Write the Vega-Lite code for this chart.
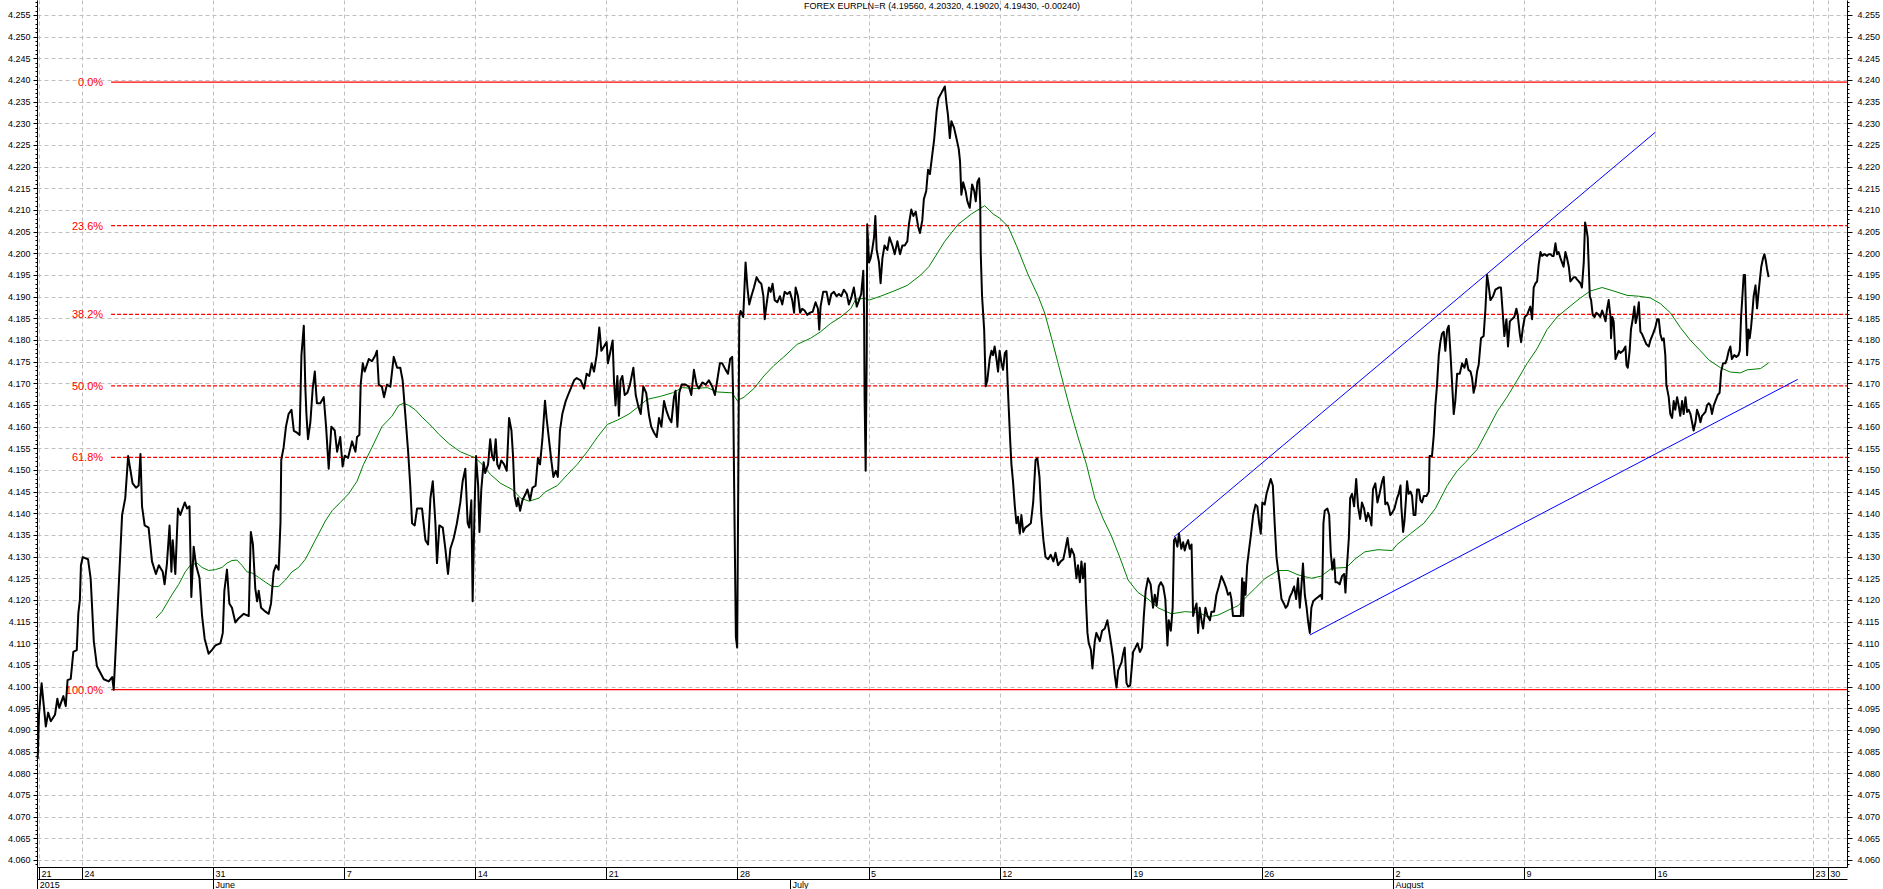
{
"$schema": "https://vega.github.io/schema/vega-lite/v6.json",
"width": 1810, "height": 867,
"autosize": {"type": "none"},
"padding": {"left": 37, "top": 0, "right": 36, "bottom": 22},
"background": "white",
"title": {"text": "FOREX EURPLN=R (4.19560, 4.20320, 4.19020, 4.19430, -0.00240)", "font": "Liberation Sans", "fontSize": 9, "fontWeight": "normal", "color": "#000", "anchor": "middle", "offset": -11},
"config": {"view": {"stroke": null}},
"datasets": {
"fib": [
{"pct": "0.0%", "level": 4.2395, "t0": 1.11, "t1": 67.32},
{"pct": "23.6%", "level": 4.2064, "t0": 1.11, "t1": 67.32},
{"pct": "38.2%", "level": 4.1859, "t0": 1.11, "t1": 67.32},
{"pct": "50.0%", "level": 4.1694, "t0": 1.11, "t1": 67.32},
{"pct": "61.8%", "level": 4.1529, "t0": 1.11, "t1": 67.32},
{"pct": "100.0%", "level": 4.0993, "t0": 1.11, "t1": 67.32}
],
"trend": [
{"t0": 41.65, "p0": 4.1345, "t1": 60.02, "p1": 4.2280},
{"t0": 46.83, "p0": 4.1119, "t1": 65.44, "p1": 4.1709}
],
"ma": [
{"t":2.82,"m":4.1158},{"t":3.05,"m":4.1173},{"t":3.43,"m":4.1212},{"t":3.69,"m":4.1236},{"t":3.94,"m":4.1265},{"t":4.13,"m":4.1280},{"t":4.39,"m":4.1285},{"t":4.58,"m":4.1275},{"t":4.83,"m":4.1268},{"t":5.09,"m":4.1270},{"t":5.34,"m":4.1275},{"t":5.53,"m":4.1285},{"t":5.72,"m":4.1291},{"t":5.91,"m":4.1292},{"t":6.10,"m":4.1280},{"t":6.29,"m":4.1265},{"t":6.49,"m":4.1262},{"t":6.74,"m":4.1252},{"t":7.00,"m":4.1241},{"t":7.25,"m":4.1231},{"t":7.50,"m":4.1231},{"t":7.76,"m":4.1246},{"t":8.01,"m":4.1265},{"t":8.26,"m":4.1275},{"t":8.52,"m":4.1294},{"t":8.90,"m":4.1338},{"t":9.28,"m":4.1382},{"t":9.54,"m":4.1406},{"t":9.85,"m":4.1425},{"t":10.17,"m":4.1445},{"t":10.49,"m":4.1474},{"t":10.74,"m":4.1513},{"t":11.06,"m":4.1552},{"t":11.44,"m":4.1600},{"t":11.82,"m":4.1624},{"t":12.08,"m":4.1649},{"t":12.27,"m":4.1654},{"t":12.46,"m":4.1649},{"t":12.71,"m":4.1639},{"t":12.97,"m":4.1622},{"t":13.35,"m":4.1600},{"t":13.60,"m":4.1583},{"t":13.99,"m":4.1561},{"t":14.43,"m":4.1542},{"t":14.75,"m":4.1534},{"t":15.00,"m":4.1528},{"t":15.26,"m":4.1513},{"t":15.59,"m":4.1489},{"t":15.97,"m":4.1469},{"t":16.41,"m":4.1455},{"t":16.73,"m":4.1435},{"t":17.05,"m":4.1428},{"t":17.43,"m":4.1435},{"t":17.69,"m":4.1450},{"t":18.13,"m":4.1464},{"t":18.51,"m":4.1489},{"t":18.89,"m":4.1513},{"t":19.27,"m":4.1542},{"t":19.66,"m":4.1576},{"t":20.04,"m":4.1605},{"t":20.42,"m":4.1615},{"t":20.86,"m":4.1629},{"t":21.18,"m":4.1644},{"t":21.56,"m":4.1663},{"t":22.07,"m":4.1670},{"t":22.52,"m":4.1678},{"t":22.90,"m":4.1690},{"t":23.34,"m":4.1688},{"t":23.85,"m":4.1690},{"t":24.23,"m":4.1680},{"t":24.80,"m":4.1678},{"t":24.99,"m":4.1660},{"t":25.25,"m":4.1668},{"t":25.63,"m":4.1688},{"t":26.01,"m":4.1717},{"t":26.39,"m":4.1741},{"t":26.77,"m":4.1761},{"t":27.28,"m":4.1790},{"t":27.79,"m":4.1804},{"t":28.17,"m":4.1819},{"t":28.55,"m":4.1838},{"t":28.94,"m":4.1853},{"t":29.32,"m":4.1872},{"t":29.51,"m":4.1894},{"t":29.83,"m":4.1896},{"t":30.02,"m":4.1892},{"t":30.46,"m":4.1901},{"t":30.97,"m":4.1913},{"t":31.48,"m":4.1926},{"t":31.99,"m":4.1950},{"t":32.30,"m":4.1969},{"t":32.56,"m":4.1994},{"t":32.91,"m":4.2028},{"t":33.42,"m":4.2067},{"t":33.93,"m":4.2091},{"t":34.43,"m":4.2110},{"t":34.75,"m":4.2091},{"t":35.00,"m":4.2081},{"t":35.32,"m":4.2062},{"t":35.64,"m":4.2018},{"t":36.09,"m":4.1950},{"t":36.47,"m":4.1901},{"t":36.72,"m":4.1862},{"t":36.98,"m":4.1804},{"t":37.23,"m":4.1746},{"t":37.48,"m":4.1688},{"t":37.74,"m":4.1629},{"t":37.99,"m":4.1576},{"t":38.31,"m":4.1513},{"t":38.63,"m":4.1435},{"t":38.95,"m":4.1387},{"t":39.26,"m":4.1348},{"t":39.58,"m":4.1299},{"t":39.90,"m":4.1246},{"t":40.28,"m":4.1217},{"t":40.66,"m":4.1202},{"t":41.04,"m":4.1182},{"t":41.55,"m":4.1168},{"t":42.06,"m":4.1173},{"t":42.57,"m":4.1171},{"t":42.95,"m":4.1161},{"t":43.33,"m":4.1165},{"t":43.71,"m":4.1176},{"t":44.10,"m":4.1187},{"t":44.41,"m":4.1207},{"t":44.73,"m":4.1226},{"t":45.11,"m":4.1249},{"t":45.62,"m":4.1268},{"t":46.00,"m":4.1268},{"t":46.38,"m":4.1258},{"t":46.89,"m":4.1250},{"t":47.27,"m":4.1255},{"t":47.66,"m":4.1273},{"t":48.23,"m":4.1275},{"t":48.55,"m":4.1294},{"t":48.93,"m":4.1311},{"t":49.43,"m":4.1316},{"t":49.97,"m":4.1314},{"t":50.16,"m":4.1328},{"t":50.67,"m":4.1353},{"t":51.18,"m":4.1377},{"t":51.62,"m":4.1411},{"t":52.07,"m":4.1464},{"t":52.45,"m":4.1498},{"t":52.77,"m":4.1518},{"t":53.21,"m":4.1547},{"t":53.59,"m":4.1590},{"t":53.97,"m":4.1634},{"t":54.35,"m":4.1668},{"t":54.74,"m":4.1707},{"t":55.12,"m":4.1746},{"t":55.50,"m":4.1780},{"t":55.88,"m":4.1824},{"t":56.26,"m":4.1853},{"t":56.64,"m":4.1872},{"t":57.15,"m":4.1897},{"t":57.53,"m":4.1913},{"t":57.98,"m":4.1921},{"t":58.42,"m":4.1913},{"t":58.93,"m":4.1903},{"t":59.38,"m":4.1901},{"t":59.82,"m":4.1897},{"t":60.20,"m":4.1884},{"t":60.58,"m":4.1863},{"t":60.96,"m":4.1829},{"t":61.35,"m":4.1799},{"t":61.73,"m":4.1775},{"t":62.05,"m":4.1754},{"t":62.49,"m":4.1736},{"t":62.87,"m":4.1726},{"t":63.25,"m":4.1724},{"t":63.51,"m":4.1731},{"t":64.02,"m":4.1734},{"t":64.33,"m":4.1747}
],
"px": [
{"t":-1.69,"p":4.0833},{"t":-1.64,"p":4.0935},{"t":-1.54,"p":4.1008},{"t":-1.48,"p":4.0970},{"t":-1.38,"p":4.0908},{"t":-1.29,"p":4.0940},{"t":-1.19,"p":4.0920},{"t":-1.03,"p":4.0935},{"t":-0.94,"p":4.0972},{"t":-0.87,"p":4.0951},{"t":-0.71,"p":4.0978},{"t":-0.62,"p":4.0955},{"t":-0.55,"p":4.1015},{"t":-0.43,"p":4.1018},{"t":-0.33,"p":4.1080},{"t":-0.20,"p":4.1084},{"t":-0.14,"p":4.1169},{"t":-0.08,"p":4.1200},{"t":-0.04,"p":4.1280},{"t":0.03,"p":4.1299},{"t":0.23,"p":4.1294},{"t":0.33,"p":4.1250},{"t":0.45,"p":4.1105},{"t":0.57,"p":4.1047},{"t":0.83,"p":4.1017},{"t":1.02,"p":4.1012},{"t":1.15,"p":4.1022},{"t":1.21,"p":4.0993},{"t":1.30,"p":4.1105},{"t":1.40,"p":4.1231},{"t":1.53,"p":4.1396},{"t":1.65,"p":4.1435},{"t":1.76,"p":4.1532},
{"t":1.93,"p":4.1469},{"t":2.06,"p":4.1459},{"t":2.16,"p":4.1464},{"t":2.23,"p":4.1537},{"t":2.29,"p":4.1416},{"t":2.39,"p":4.1372},{"t":2.54,"p":4.1367},{"t":2.67,"p":4.1289},{"t":2.82,"p":4.1260},{"t":2.93,"p":4.1280},{"t":3.08,"p":4.1265},{"t":3.15,"p":4.1236},{"t":3.24,"p":4.1284},{"t":3.34,"p":4.1372},{"t":3.41,"p":4.1265},{"t":3.46,"p":4.1338},{"t":3.56,"p":4.1260},{"t":3.66,"p":4.1411},{"t":3.75,"p":4.1396},{"t":3.92,"p":4.1425},{"t":4.01,"p":4.1411},{"t":4.10,"p":4.1416},{"t":4.17,"p":4.1207},{"t":4.26,"p":4.1323},{"t":4.35,"p":4.1280},{"t":4.48,"p":4.1251},{"t":4.58,"p":4.1163},{"t":4.68,"p":4.1110},{"t":4.83,"p":4.1076},{"t":4.96,"p":4.1085},{"t":5.09,"p":4.1095},{"t":5.28,"p":4.1100},{"t":5.37,"p":4.1124},{"t":5.43,"p":4.1221},{"t":5.53,"p":4.1270},{"t":5.62,"p":4.1192},{"t":5.72,"p":4.1182},{"t":5.85,"p":4.1148},{"t":5.98,"p":4.1158},{"t":6.17,"p":4.1168},{"t":6.36,"p":4.1163},{"t":6.44,"p":4.1357},{"t":6.52,"p":4.1328},{"t":6.61,"p":4.1226},{"t":6.68,"p":4.1197},{"t":6.74,"p":4.1221},{"t":6.83,"p":4.1182},{"t":7.00,"p":4.1173},{"t":7.12,"p":4.1168},{"t":7.21,"p":4.1192},{"t":7.31,"p":4.1265},{"t":7.40,"p":4.1280},{"t":7.50,"p":4.1270},{"t":7.57,"p":4.1377},{"t":7.60,"p":4.1523},{"t":7.69,"p":4.1552},{"t":7.78,"p":4.1600},{"t":7.88,"p":4.1629},{"t":7.99,"p":4.1639},{"t":8.08,"p":4.1590},{"t":8.20,"p":4.1586},{"t":8.30,"p":4.1581},{"t":8.37,"p":4.1765},{"t":8.46,"p":4.1833},{"t":8.52,"p":4.1688},{"t":8.56,"p":4.1629},{"t":8.62,"p":4.1571},{"t":8.71,"p":4.1610},{"t":8.80,"p":4.1688},{"t":8.88,"p":4.1727},{"t":8.96,"p":4.1654},{"t":9.09,"p":4.1654},{"t":9.22,"p":4.1668},{"t":9.31,"p":4.1600},{"t":9.41,"p":4.1503},{"t":9.51,"p":4.1600},{"t":9.64,"p":4.1591},{"t":9.73,"p":4.1542},{"t":9.85,"p":4.1576},{"t":9.94,"p":4.1508},{"t":10.02,"p":4.1533},{"t":10.15,"p":4.1528},{"t":10.30,"p":4.1566},{"t":10.43,"p":4.1542},{"t":10.49,"p":4.1576},{"t":10.58,"p":4.1581},{"t":10.63,"p":4.1697},{"t":10.71,"p":4.1746},{"t":10.78,"p":4.1727},{"t":10.94,"p":4.1756},{"t":11.06,"p":4.1751},{"t":11.19,"p":4.1765},{"t":11.25,"p":4.1775},{"t":11.32,"p":4.1697},{"t":11.44,"p":4.1692},{"t":11.52,"p":4.1668},{"t":11.63,"p":4.1697},{"t":11.76,"p":4.1692},{"t":11.89,"p":4.1761},{"t":12.02,"p":4.1736},{"t":12.14,"p":4.1736},{"t":12.23,"p":4.1707},{"t":12.33,"p":4.1629},{"t":12.44,"p":4.1542},{"t":12.52,"p":4.1464},{"t":12.59,"p":4.1377},{"t":12.69,"p":4.1372},{"t":12.78,"p":4.1411},{"t":12.97,"p":4.1411},{"t":13.10,"p":4.1338},{"t":13.20,"p":4.1328},{"t":13.29,"p":4.1435},{"t":13.38,"p":4.1474},{"t":13.48,"p":4.1377},{"t":13.54,"p":4.1285},{"t":13.63,"p":4.1372},{"t":13.76,"p":4.1367},{"t":13.86,"p":4.1318},{"t":13.96,"p":4.1260},{"t":14.05,"p":4.1318},{"t":14.18,"p":4.1343},{"t":14.30,"p":4.1377},{"t":14.43,"p":4.1425},{"t":14.52,"p":4.1474},{"t":14.62,"p":4.1503},{"t":14.71,"p":4.1377},{"t":14.77,"p":4.1367},{"t":14.85,"p":4.1430},{"t":14.90,"p":4.1197},{"t":14.97,"p":4.1406},{"t":15.03,"p":4.1532},{"t":15.11,"p":4.1464},{"t":15.16,"p":4.1357},{"t":15.23,"p":4.1455},{"t":15.32,"p":4.1518},{"t":15.38,"p":4.1493},{"t":15.49,"p":4.1513},{"t":15.57,"p":4.1571},{"t":15.64,"p":4.1533},
{"t":15.71,"p":4.1522},{"t":15.78,"p":4.1571},{"t":15.84,"p":4.1513},{"t":15.91,"p":4.1503},{"t":15.99,"p":4.1522},{"t":16.10,"p":4.1513},{"t":16.20,"p":4.1498},{"t":16.29,"p":4.1620},{"t":16.38,"p":4.1591},{"t":16.44,"p":4.1533},{"t":16.50,"p":4.1440},{"t":16.58,"p":4.1416},{"t":16.63,"p":4.1435},{"t":16.71,"p":4.1406},{"t":16.80,"p":4.1430},{"t":16.92,"p":4.1445},{"t":16.99,"p":4.1455},{"t":17.09,"p":4.1430},{"t":17.18,"p":4.1459},{"t":17.30,"p":4.1464},{"t":17.39,"p":4.1527},{"t":17.47,"p":4.1513},{"t":17.56,"p":4.1571},{"t":17.66,"p":4.1660},{"t":17.72,"p":4.1620},{"t":17.81,"p":4.1571},{"t":17.90,"p":4.1522},{"t":17.98,"p":4.1484},{"t":18.07,"p":4.1498},{"t":18.15,"p":4.1484},{"t":18.23,"p":4.1591},{"t":18.32,"p":4.1629},{"t":18.45,"p":4.1659},{"t":18.54,"p":4.1673},{"t":18.64,"p":4.1688},{"t":18.77,"p":4.1707},{"t":18.87,"p":4.1712},{"t":19.02,"p":4.1707},{"t":19.15,"p":4.1688},{"t":19.25,"p":4.1722},{"t":19.35,"p":4.1717},{"t":19.44,"p":4.1746},{"t":19.53,"p":4.1727},{"t":19.63,"p":4.1765},{"t":19.73,"p":4.1829},{"t":19.81,"p":4.1775},{"t":19.91,"p":4.1785},{"t":20.01,"p":4.1795},{"t":20.06,"p":4.1746},{"t":20.16,"p":4.1775},{"t":20.24,"p":4.1799},{"t":20.29,"p":4.1707},{"t":20.35,"p":4.1649},{"t":20.42,"p":4.1717},{"t":20.48,"p":4.1625},{"t":20.54,"p":4.1707},{"t":20.61,"p":4.1717},{"t":20.70,"p":4.1673},{"t":20.80,"p":4.1678},{"t":20.90,"p":4.1697},{"t":21.03,"p":4.1736},{"t":21.12,"p":4.1673},{"t":21.21,"p":4.1649},{"t":21.31,"p":4.1629},{"t":21.41,"p":4.1693},{"t":21.52,"p":4.1678},{"t":21.63,"p":4.1625},{"t":21.71,"p":4.1600},{"t":21.82,"p":4.1586},{"t":21.92,"p":4.1576},{"t":22.01,"p":4.1620},{"t":22.10,"p":4.1600},{"t":22.20,"p":4.1659},{"t":22.30,"p":4.1635},{"t":22.39,"p":4.1620},{"t":22.48,"p":4.1610},{"t":22.58,"p":4.1668},{"t":22.64,"p":4.1683},{"t":22.71,"p":4.1600},{"t":22.78,"p":4.1678},{"t":22.87,"p":4.1697},{"t":23.02,"p":4.1697},{"t":23.15,"p":4.1692},{"t":23.24,"p":4.1673},{"t":23.34,"p":4.1731},{"t":23.44,"p":4.1697},{"t":23.53,"p":4.1688},{"t":23.66,"p":4.1702},{"t":23.79,"p":4.1697},{"t":23.91,"p":4.1707},{"t":24.04,"p":4.1692},{"t":24.14,"p":4.1673},{"t":24.23,"p":4.1707},{"t":24.33,"p":4.1746},{"t":24.42,"p":4.1746},{"t":24.55,"p":4.1731},{"t":24.64,"p":4.1722},{"t":24.72,"p":4.1756},{"t":24.80,"p":4.1761},{"t":24.84,"p":4.1659},{"t":24.89,"p":4.1377},{"t":24.94,"p":4.1114},{"t":24.99,"p":4.1090},{"t":25.03,"p":4.1455},{"t":25.07,"p":4.1853},{"t":25.12,"p":4.1867},{"t":25.22,"p":4.1853},{"t":25.31,"p":4.1979},{"t":25.38,"p":4.1921},{"t":25.45,"p":4.1882},{"t":25.53,"p":4.1901},{"t":25.63,"p":4.1921},{"t":25.73,"p":4.1945},{"t":25.82,"p":4.1935},{"t":25.91,"p":4.1930},{"t":25.99,"p":4.1901},{"t":26.04,"p":4.1848},{"t":26.11,"p":4.1882},{"t":26.20,"p":4.1921},{"t":26.27,"p":4.1911},{"t":26.34,"p":4.1930},{"t":26.42,"p":4.1892},{"t":26.52,"p":4.1887},{"t":26.62,"p":4.1901},{"t":26.71,"p":4.1882},{"t":26.80,"p":4.1911},{"t":26.90,"p":4.1906},{"t":27.00,"p":4.1911},{"t":27.09,"p":4.1892},{"t":27.16,"p":4.1863},{"t":27.22,"p":4.1921},{"t":27.31,"p":4.1901},{"t":27.39,"p":4.1863},{"t":27.47,"p":4.1872},{"t":27.56,"p":4.1868},{"t":27.66,"p":4.1858},{"t":27.77,"p":4.1863},{"t":27.87,"p":4.1865},{"t":27.98,"p":4.1887},{"t":28.07,"p":4.1872},{"t":28.12,"p":4.1824},{"t":28.17,"p":4.1877},{"t":28.27,"p":4.1911},{"t":28.40,"p":4.1911},{"t":28.49,"p":4.1882},{"t":28.58,"p":4.1906},{"t":28.68,"p":4.1911},{"t":28.78,"p":4.1901},{"t":28.87,"p":4.1906},{"t":28.96,"p":4.1901},{"t":29.06,"p":4.1916},{"t":29.17,"p":4.1906},{"t":29.25,"p":4.1882},{"t":29.34,"p":4.1897},{"t":29.44,"p":4.1921},{"t":29.55,"p":4.1877},{"t":29.64,"p":4.1892},{"t":29.72,"p":4.1906},{"t":29.80,"p":4.1960},{"t":29.83,"p":4.1863},{"t":29.85,"p":4.1668},{"t":29.89,"p":4.1498},{"t":29.93,"p":4.1765},{"t":29.95,"p":4.2067},{"t":30.02,"p":4.1979},{"t":30.08,"p":4.1989},{"t":30.14,"p":4.2008},{"t":30.21,"p":4.2037},{"t":30.26,"p":4.2086},{"t":30.31,"p":4.2008},{"t":30.40,"p":4.1979},{"t":30.46,"p":4.1931},{"t":30.53,"p":4.1989},{"t":30.61,"p":4.2018},{"t":30.72,"p":4.2008},{"t":30.80,"p":4.2037},{"t":30.91,"p":4.2018},{"t":31.00,"p":4.1998},{"t":31.10,"p":4.2028},{"t":31.20,"p":4.1998},{"t":31.29,"p":4.2018},{"t":31.38,"p":4.2018},{"t":31.48,"p":4.2028},{"t":31.54,"p":4.2067},{"t":31.63,"p":4.2101},{"t":31.71,"p":4.2086},{"t":31.80,"p":4.2096},{"t":31.89,"p":4.2062},{"t":31.96,"p":4.2047},{"t":32.05,"p":4.2076},{"t":32.11,"p":4.2125},{"t":32.20,"p":4.2144},{"t":32.27,"p":4.2193},{"t":32.34,"p":4.2183},{"t":32.43,"p":4.2227},{"t":32.50,"p":4.2261},{"t":32.60,"p":4.2329},{"t":32.67,"p":4.2358},
{"t":32.76,"p":4.2368},{"t":32.84,"p":4.2377},{"t":32.91,"p":4.2385},{"t":32.97,"p":4.2348},{"t":33.03,"p":4.2319},{"t":33.10,"p":4.2266},{"t":33.16,"p":4.2305},{"t":33.26,"p":4.2290},{"t":33.35,"p":4.2266},{"t":33.44,"p":4.2241},{"t":33.49,"p":4.2212},{"t":33.54,"p":4.2135},{"t":33.61,"p":4.2164},{"t":33.70,"p":4.2144},{"t":33.77,"p":4.2120},{"t":33.86,"p":4.2105},{"t":33.95,"p":4.2159},{"t":34.03,"p":4.2144},{"t":34.09,"p":4.2120},{"t":34.15,"p":4.2164},{"t":34.22,"p":4.2173},{"t":34.26,"p":4.2115},{"t":34.28,"p":4.1999},{"t":34.33,"p":4.1901},{"t":34.41,"p":4.1824},{"t":34.47,"p":4.1693},{"t":34.53,"p":4.1707},{"t":34.62,"p":4.1756},{"t":34.69,"p":4.1775},{"t":34.75,"p":4.1765},{"t":34.81,"p":4.1785},{"t":34.88,"p":4.1756},{"t":34.94,"p":4.1727},{"t":35.00,"p":4.1775},{"t":35.07,"p":4.1746},{"t":35.13,"p":4.1731},{"t":35.20,"p":4.1770},{"t":35.26,"p":4.1775},{"t":35.30,"p":4.1707},{"t":35.35,"p":4.1639},{"t":35.40,"p":4.1571},{"t":35.45,"p":4.1513},{"t":35.51,"p":4.1474},{"t":35.58,"p":4.1416},{"t":35.64,"p":4.1377},{"t":35.70,"p":4.1392},{"t":35.77,"p":4.1353},{"t":35.83,"p":4.1396},{"t":35.90,"p":4.1357},{"t":35.98,"p":4.1367},{"t":36.09,"p":4.1372},{"t":36.19,"p":4.1377},{"t":36.28,"p":4.1425},{"t":36.37,"p":4.1523},{"t":36.44,"p":4.1527},{"t":36.52,"p":4.1484},{"t":36.59,"p":4.1396},{"t":36.67,"p":4.1338},{"t":36.75,"p":4.1299},{"t":36.85,"p":4.1294},{"t":36.95,"p":4.1304},{"t":37.05,"p":4.1289},{"t":37.13,"p":4.1309},{"t":37.23,"p":4.1280},{"t":37.33,"p":4.1289},{"t":37.43,"p":4.1294},{"t":37.51,"p":4.1318},{"t":37.59,"p":4.1343},{"t":37.68,"p":4.1299},{"t":37.74,"p":4.1318},{"t":37.84,"p":4.1304},{"t":37.93,"p":4.1250},{"t":37.99,"p":4.1280},{"t":38.06,"p":4.1241},{"t":38.12,"p":4.1289},{"t":38.18,"p":4.1250},{"t":38.25,"p":4.1284},{"t":38.29,"p":4.1202},{"t":38.35,"p":4.1124},{"t":38.40,"p":4.1100},{"t":38.48,"p":4.1085},{"t":38.54,"p":4.1042},{"t":38.63,"p":4.1105},{"t":38.69,"p":4.1124},{"t":38.76,"p":4.1114},{"t":38.82,"p":4.1105},{"t":38.91,"p":4.1129},{"t":39.01,"p":4.1134},{"t":39.11,"p":4.1153},{"t":39.20,"p":4.1119},{"t":39.26,"p":4.1095},{"t":39.33,"p":4.1066},{"t":39.39,"p":4.1027},{"t":39.46,"p":4.0998},{"t":39.52,"p":4.1037},{"t":39.58,"p":4.1046},{"t":39.65,"p":4.1056},{"t":39.71,"p":4.1076},{"t":39.77,"p":4.1090},{"t":39.84,"p":4.1008},{"t":39.90,"p":4.1000},{"t":39.98,"p":4.1003},{"t":40.03,"p":4.1037},{"t":40.09,"p":4.1080},{"t":40.18,"p":4.1090},{"t":40.26,"p":4.1100},{"t":40.35,"p":4.1080},{"t":40.43,"p":4.1090},{"t":40.50,"p":4.1163},{"t":40.57,"p":4.1221},{"t":40.66,"p":4.1250},{"t":40.76,"p":4.1236},{"t":40.85,"p":4.1182},{"t":40.92,"p":4.1212},{"t":40.99,"p":4.1187},{"t":41.07,"p":4.1231},{"t":41.15,"p":4.1241},{"t":41.24,"p":4.1231},{"t":41.32,"p":4.1202},{"t":41.40,"p":4.1095},{"t":41.45,"p":4.1153},{"t":41.53,"p":4.1129},{"t":41.60,"p":4.1182},{"t":41.65,"p":4.1338},{"t":41.70,"p":4.1343},{"t":41.78,"p":4.1323},{"t":41.84,"p":4.1353},{"t":41.93,"p":4.1318},{"t":42.00,"p":4.1333},{"t":42.06,"p":4.1314},{"t":42.12,"p":4.1328},{"t":42.19,"p":4.1338},{"t":42.25,"p":4.1318},{"t":42.32,"p":4.1328},{"t":42.38,"p":4.1163},{"t":42.44,"p":4.1178},{"t":42.51,"p":4.1192},{"t":42.57,"p":4.1124},{"t":42.63,"p":4.1182},{"t":42.70,"p":4.1153},{"t":42.76,"p":4.1134},{"t":42.85,"p":4.1182},{"t":42.93,"p":4.1163},{"t":43.02,"p":4.1153},{"t":43.08,"p":4.1173},{"t":43.18,"p":4.1173},{"t":43.27,"p":4.1212},{"t":43.36,"p":4.1231},{"t":43.46,"p":4.1255},{"t":43.56,"p":4.1241},{"t":43.65,"p":4.1226},{"t":43.71,"p":4.1212},{"t":43.79,"p":4.1217},{"t":43.84,"p":4.1202},{"t":43.90,"p":4.1163},{"t":43.99,"p":4.1163},{"t":44.10,"p":4.1163},{"t":44.20,"p":4.1163},{"t":44.25,"p":4.1250},{"t":44.29,"p":4.1163},{"t":44.32,"p":4.1241},{"t":44.38,"p":4.1212},{"t":44.44,"p":4.1280},{"t":44.50,"p":4.1309},{"t":44.58,"p":4.1348},{"t":44.67,"p":4.1396},{"t":44.76,"p":4.1420},{"t":44.83,"p":4.1416},{"t":44.90,"p":4.1377},{"t":44.96,"p":4.1353},{"t":45.02,"p":4.1425},{"t":45.11,"p":4.1420},{"t":45.18,"p":4.1445},{"t":45.27,"p":4.1464},{"t":45.34,"p":4.1479},{"t":45.42,"p":4.1464},{"t":45.49,"p":4.1377},{"t":45.56,"p":4.1299},{"t":45.62,"p":4.1270},{"t":45.68,"p":4.1241},{"t":45.75,"p":4.1202},{"t":45.84,"p":4.1192},{"t":45.91,"p":4.1182},{"t":45.98,"p":4.1187},{"t":46.07,"p":4.1207},{"t":46.15,"p":4.1217},{"t":46.23,"p":4.1231},{"t":46.31,"p":4.1202},{"t":46.38,"p":4.1250},{"t":46.45,"p":4.1182},{"t":46.51,"p":4.1231},{"t":46.57,"p":4.1284},{"t":46.64,"p":4.1212},{"t":46.71,"p":4.1182},{"t":46.76,"p":4.1153},{"t":46.83,"p":4.1124},{"t":46.89,"p":4.1182},{"t":46.96,"p":4.1197},{"t":47.05,"p":4.1202},{"t":47.15,"p":4.1207},{"t":47.25,"p":4.1212},{"t":47.30,"p":4.1202},{"t":47.35,"p":4.1377},{"t":47.40,"p":4.1406},{"t":47.50,"p":4.1411},{"t":47.57,"p":4.1396},{"t":47.63,"p":4.1309},{"t":47.69,"p":4.1270},{"t":47.76,"p":4.1294},{"t":47.81,"p":4.1241},{"t":47.88,"p":4.1241},{"t":47.97,"p":4.1236},{"t":48.06,"p":4.1255},{"t":48.14,"p":4.1260},{"t":48.19,"p":4.1217},{"t":48.25,"p":4.1280},{"t":48.32,"p":4.1343},{"t":48.37,"p":4.1435},{"t":48.44,"p":4.1445},{"t":48.52,"p":4.1416},{"t":48.60,"p":4.1479},{"t":48.67,"p":4.1416},{"t":48.75,"p":4.1387},{"t":48.82,"p":4.1425},{"t":48.90,"p":4.1411},{"t":48.98,"p":4.1382},{"t":49.05,"p":4.1401},{"t":49.13,"p":4.1387},{"t":49.18,"p":4.1372},{"t":49.24,"p":4.1455},{"t":49.33,"p":4.1469},{"t":49.41,"p":4.1425},{"t":49.49,"p":4.1445},
{"t":49.59,"p":4.1474},{"t":49.65,"p":4.1484},{"t":49.71,"p":4.1421},{"t":49.78,"p":4.1425},{"t":49.84,"p":4.1416},{"t":49.90,"p":4.1396},{"t":49.97,"p":4.1401},{"t":50.06,"p":4.1411},{"t":50.16,"p":4.1435},{"t":50.22,"p":4.1445},{"t":50.29,"p":4.1464},{"t":50.32,"p":4.1416},{"t":50.39,"p":4.1357},{"t":50.44,"p":4.1382},{"t":50.49,"p":4.1425},{"t":50.54,"p":4.1474},{"t":50.60,"p":4.1445},{"t":50.67,"p":4.1450},{"t":50.73,"p":4.1440},{"t":50.79,"p":4.1396},{"t":50.86,"p":4.1396},{"t":50.92,"p":4.1455},{"t":50.99,"p":4.1455},{"t":51.05,"p":4.1430},{"t":51.11,"p":4.1425},{"t":51.18,"p":4.1440},{"t":51.28,"p":4.1440},{"t":51.37,"p":4.1450},{"t":51.40,"p":4.1532},{"t":51.49,"p":4.1532},{"t":51.56,"p":4.1581},{"t":51.62,"p":4.1649},{"t":51.68,"p":4.1693},{"t":51.75,"p":4.1765},{"t":51.81,"p":4.1795},{"t":51.87,"p":4.1814},{"t":51.94,"p":4.1819},{"t":52.00,"p":4.1775},{"t":52.07,"p":4.1824},{"t":52.13,"p":4.1833},{"t":52.19,"p":4.1775},{"t":52.26,"p":4.1697},{"t":52.32,"p":4.1629},{"t":52.38,"p":4.1659},{"t":52.45,"p":4.1722},{"t":52.55,"p":4.1722},{"t":52.64,"p":4.1746},{"t":52.73,"p":4.1736},{"t":52.80,"p":4.1756},{"t":52.88,"p":4.1731},{"t":52.96,"p":4.1727},{"t":53.02,"p":4.1712},{"t":53.08,"p":4.1678},{"t":53.15,"p":4.1697},{"t":53.21,"p":4.1727},{"t":53.27,"p":4.1742},{"t":53.36,"p":4.1804},{"t":53.46,"p":4.1809},{"t":53.53,"p":4.1872},{"t":53.59,"p":4.1950},{"t":53.64,"p":4.1931},{"t":53.72,"p":4.1892},{"t":53.82,"p":4.1901},{"t":53.91,"p":4.1916},{"t":54.04,"p":4.1921},{"t":54.12,"p":4.1921},{"t":54.20,"p":4.1853},{"t":54.25,"p":4.1809},{"t":54.33,"p":4.1848},{"t":54.39,"p":4.1785},{"t":54.46,"p":4.1843},{"t":54.54,"p":4.1848},{"t":54.63,"p":4.1853},{"t":54.71,"p":4.1872},{"t":54.76,"p":4.1858},{"t":54.84,"p":4.1814},{"t":54.89,"p":4.1795},{"t":54.96,"p":4.1829},{"t":55.03,"p":4.1853},{"t":55.12,"p":4.1858},{"t":55.18,"p":4.1868},{"t":55.24,"p":4.1877},{"t":55.31,"p":4.1848},{"t":55.37,"p":4.1921},{"t":55.44,"p":4.1931},{"t":55.50,"p":4.1935},{"t":55.56,"p":4.1974},{"t":55.63,"p":4.2003},{"t":55.69,"p":4.1994},{"t":55.78,"p":4.1998},{"t":55.88,"p":4.1994},{"t":55.94,"p":4.1998},{"t":56.01,"p":4.1998},{"t":56.07,"p":4.1994},{"t":56.13,"p":4.1994},{"t":56.20,"p":4.2023},{"t":56.26,"p":4.1998},{"t":56.32,"p":4.2003},{"t":56.39,"p":4.1989},{"t":56.45,"p":4.1979},{"t":56.51,"p":4.1969},{"t":56.58,"p":4.2003},{"t":56.64,"p":4.1989},{"t":56.71,"p":4.1969},{"t":56.77,"p":4.1935},{"t":56.83,"p":4.1940},{"t":56.90,"p":4.1945},{"t":56.96,"p":4.1945},{"t":57.02,"p":4.1940},{"t":57.09,"p":4.1935},{"t":57.15,"p":4.1931},{"t":57.21,"p":4.1921},{"t":57.28,"p":4.1979},{"t":57.33,"p":4.2071},{"t":57.38,"p":4.2057},{"t":57.43,"p":4.2037},{"t":57.47,"p":4.1969},{"t":57.51,"p":4.1901},{"t":57.56,"p":4.1892},{"t":57.62,"p":4.1858},{"t":57.69,"p":4.1853},{"t":57.76,"p":4.1863},{"t":57.85,"p":4.1858},{"t":57.91,"p":4.1853},{"t":57.98,"p":4.1868},{"t":58.04,"p":4.1858},{"t":58.11,"p":4.1843},{"t":58.17,"p":4.1872},{"t":58.23,"p":4.1892},{"t":58.30,"p":4.1853},{"t":58.32,"p":4.1804},{"t":58.37,"p":4.1853},{"t":58.42,"p":4.1843},{"t":58.49,"p":4.1756},{"t":58.55,"p":4.1765},{"t":58.61,"p":4.1775},{"t":58.68,"p":4.1770},{"t":58.78,"p":4.1775},{"t":58.87,"p":4.1785},{"t":58.91,"p":4.1741},{"t":58.96,"p":4.1736},{"t":59.03,"p":4.1775},{"t":59.08,"p":4.1824},{"t":59.16,"p":4.1853},{"t":59.21,"p":4.1877},{"t":59.26,"p":4.1839},{"t":59.31,"p":4.1853},{"t":59.38,"p":4.1887},{"t":59.44,"p":4.1819},{"t":59.50,"p":4.1814},{"t":59.57,"p":4.1804},{"t":59.67,"p":4.1790},{"t":59.76,"p":4.1785},{"t":59.82,"p":4.1799},{"t":59.92,"p":4.1814},{"t":60.01,"p":4.1829},{"t":60.08,"p":4.1848},{"t":60.14,"p":4.1848},{"t":60.20,"p":4.1814},{"t":60.27,"p":4.1799},{"t":60.33,"p":4.1804},{"t":60.39,"p":4.1765},{"t":60.43,"p":4.1697},{"t":60.52,"p":4.1668},{"t":60.58,"p":4.1629},{"t":60.65,"p":4.1620},{"t":60.71,"p":4.1659},{"t":60.77,"p":4.1639},{"t":60.84,"p":4.1668},{"t":60.90,"p":4.1649},{"t":60.96,"p":4.1625},{"t":61.03,"p":4.1659},{"t":61.09,"p":4.1629},{"t":61.16,"p":4.1668},{"t":61.22,"p":4.1634},{"t":61.28,"p":4.1639},{"t":61.35,"p":4.1629},{"t":61.41,"p":4.1610},{"t":61.47,"p":4.1591},{"t":61.54,"p":4.1610},{"t":61.60,"p":4.1639},{"t":61.66,"p":4.1629},{"t":61.73,"p":4.1610},{"t":61.79,"p":4.1625},{"t":61.85,"p":4.1629},{"t":61.92,"p":4.1634},{"t":61.98,"p":4.1649},{"t":62.05,"p":4.1654},{"t":62.11,"p":4.1649},{"t":62.17,"p":4.1629},{"t":62.24,"p":4.1649},{"t":62.30,"p":4.1659},{"t":62.39,"p":4.1673},{"t":62.46,"p":4.1678},{"t":62.52,"p":4.1727},{"t":62.59,"p":4.1746},{"t":62.68,"p":4.1746},{"t":62.74,"p":4.1756},{"t":62.81,"p":4.1775},{"t":62.87,"p":4.1785},{"t":62.93,"p":4.1756},{"t":63.02,"p":4.1765},{"t":63.10,"p":4.1761},{"t":63.18,"p":4.1765},{"t":63.23,"p":4.1775},{"t":63.28,"p":4.1853},{"t":63.33,"p":4.1901},{"t":63.38,"p":4.1950},{"t":63.43,"p":4.1950},{"t":63.47,"p":4.1853},{"t":63.51,"p":4.1765},{"t":63.56,"p":4.1824},{"t":63.61,"p":4.1804},{"t":63.66,"p":4.1829},{"t":63.71,"p":4.1863},{"t":63.76,"p":4.1901},{"t":63.83,"p":4.1926},{"t":63.89,"p":4.1873},{"t":63.94,"p":4.1906},{"t":63.99,"p":4.1935},{"t":64.05,"p":4.1969},{"t":64.12,"p":4.1989},{"t":64.17,"p":4.1998},{"t":64.22,"p":4.1984},{"t":64.27,"p":4.1964},{"t":64.33,"p":4.1945}
]
},
"layer": [
{
"data": {"name": "fib"},
"transform": [{"filter": "datum.pct == '0.0%' || datum.pct == '100.0%'"}],
"mark": {"type": "rule", "color": "#ff0000", "strokeWidth": 1.3},
"encoding": {
"x": {"field": "t0", "type": "quantitative", "scale": {"domain": [-1.716, 67.32], "nice": false, "zero": false},
"axis": {"orient": "bottom", "title": null, "values": [-1.71, -1.64, 0, 5, 10, 15, 20, 25, 30, 35, 40, 45, 50, 55, 60, 66.02, 66.59],
"labelExpr": "['','21','24','31','7','14','21','28','5','12','19','26','2','9','16','23','30'][indexof([-1.71,-1.64,0,5,10,15,20,25,30,35,40,45,50,55,60,66.02,66.59], datum.value)]",
"grid": true, "gridColor": "#c0c0c0", "gridDash": [4, 3], "gridWidth": 1,
"domain": true, "domainColor": "#000", "domainWidth": 1,
"ticks": true, "tickColor": "#000", "tickSize": 12, "tickWidth": 1,
"labelAlign": "left", "labelBaseline": "middle", "labelPadding": -5.5, "labelOffset": 2,
"labelFont": "Liberation Sans", "labelFontSize": 9, "labelColor": "#000",
"labelOverlap": false, "labelFlush": false, "labelBound": false}},
"x2": {"field": "t1"},
"y": {"field": "level", "type": "quantitative", "scale": {"domain": [4.05837, 4.25846], "nice": false, "zero": false},
"axis": {"orient": "left", "title": null, "tickCount": 40, "format": ".3f",
"grid": true, "gridColor": "#c0c0c0", "gridDash": [4, 3], "gridWidth": 1,
"domain": true, "domainColor": "#000", "domainWidth": 1,
"ticks": true, "tickColor": "#000", "tickSize": 4, "tickWidth": 1, "labelPadding": 3,
"labelFont": "Liberation Sans", "labelFontSize": 9, "labelColor": "#000",
"labelOverlap": false, "labelFlush": false, "labelBound": false}}
}
},
{
"data": {"name": "fib"},
"transform": [{"filter": "datum.pct != '0.0%' && datum.pct != '100.0%'"}],
"mark": {"type": "rule", "color": "#ff0000", "strokeWidth": 1.2, "strokeDash": [4, 2]},
"encoding": {
"x": {"field": "t0", "type": "quantitative", "scale": {"domain": [-1.716, 67.32], "nice": false, "zero": false},
"axis": {"orient": "bottom", "offset": 12, "title": null, "values": [-1.71, 5, 27, 50],
"labelExpr": "['2015','June','July','August'][indexof([-1.71,5,27,50], datum.value)]",
"grid": false, "domain": true, "domainColor": "#000", "domainWidth": 1,
"ticks": true, "tickColor": "#000", "tickSize": 10, "tickWidth": 1,
"labelAlign": "left", "labelBaseline": "middle", "labelPadding": -4.5, "labelOffset": 2,
"labelFont": "Liberation Sans", "labelFontSize": 9, "labelColor": "#000",
"labelOverlap": false, "labelFlush": false, "labelBound": false}},
"x2": {"field": "t1"},
"y": {"field": "level", "type": "quantitative", "scale": {"domain": [4.05837, 4.25846], "nice": false, "zero": false},
"axis": {"orient": "right", "title": null, "tickCount": 40, "format": ".3f", "grid": false,
"domain": true, "domainColor": "#000", "domainWidth": 1,
"ticks": true, "tickColor": "#000", "tickSize": 5, "tickWidth": 1, "labelPadding": 5,
"labelFont": "Liberation Sans", "labelFontSize": 9, "labelColor": "#000",
"labelOverlap": false, "labelFlush": false, "labelBound": false}}
}
},
{
"data": {"name": "fib"},
"mark": {"type": "text", "color": "#ff0000", "font": "Liberation Sans", "fontSize": 11, "align": "right", "baseline": "middle", "dx": -8, "dy": 1},
"encoding": {
"x": {"field": "t0", "type": "quantitative", "scale": {"domain": [-1.716, 67.32], "nice": false, "zero": false}, "axis": null},
"y": {"field": "level", "type": "quantitative", "scale": {"domain": [4.05837, 4.25846], "nice": false, "zero": false},
"axis": {"orient": "left", "title": null, "tickCount": 200, "labels": false, "domain": false, "grid": false, "ticks": true, "tickColor": "#000", "tickSize": 2, "tickWidth": 1}},
"text": {"field": "pct"}
}
},
{
"data": {"name": "ma"},
"mark": {"type": "line", "color": "#008000", "strokeWidth": 1},
"encoding": {
"x": {"field": "t", "type": "quantitative", "scale": {"domain": [-1.716, 67.32], "nice": false, "zero": false}, "axis": null},
"y": {"field": "m", "type": "quantitative", "scale": {"domain": [4.05837, 4.25846], "nice": false, "zero": false},
"axis": {"orient": "right", "title": null, "tickCount": 200, "labels": false, "domain": false, "grid": false, "ticks": true, "tickColor": "#000", "tickSize": 2, "tickWidth": 1}}
}
},
{
"data": {"name": "trend"},
"mark": {"type": "rule", "color": "#0000ff", "strokeWidth": 1},
"encoding": {
"x": {"field": "t0", "type": "quantitative", "scale": {"domain": [-1.716, 67.32], "nice": false, "zero": false}, "axis": null},
"x2": {"field": "t1"},
"y": {"field": "p0", "type": "quantitative", "scale": {"domain": [4.05837, 4.25846], "nice": false, "zero": false}, "axis": null},
"y2": {"field": "p1"}
}
},
{
"data": {"name": "px"},
"mark": {"type": "line", "color": "#000000", "strokeWidth": 2, "strokeJoin": "round"},
"encoding": {
"x": {"field": "t", "type": "quantitative", "scale": {"domain": [-1.716, 67.32], "nice": false, "zero": false}, "axis": null},
"y": {"field": "p", "type": "quantitative", "scale": {"domain": [4.05837, 4.25846], "nice": false, "zero": false}, "axis": null}
}
}
],
"resolve": {"scale": {"x": "shared", "y": "shared"}, "axis": {"x": "independent", "y": "independent"}}
}
